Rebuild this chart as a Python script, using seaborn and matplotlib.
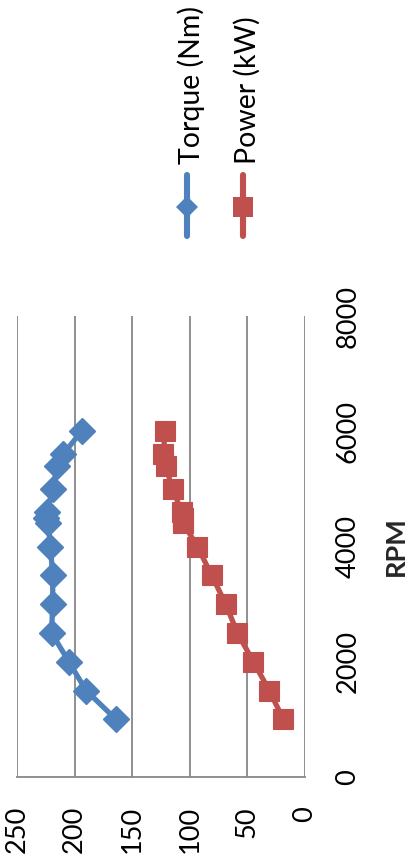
import matplotlib
matplotlib.use("Agg")
import matplotlib.pyplot as plt
import seaborn as sns
import pandas as pd

# ---- data ----
rpm = [1000, 1500, 2000, 2500, 3000, 3500, 4000, 4400, 4500, 4600, 5000, 5400, 5600, 6000]
torque_nm = [164, 190, 205, 220, 219, 219, 221, 223, 225, 224, 219, 215, 210, 194]
power_kw = [18.8, 31, 44.8, 58.7, 68.8, 81, 93.4, 105.5, 106, 107, 115, 121, 123, 121.4]
value_ticks = [0, 50, 100, 150, 200, 250]
rpm_ticks = [0, 2000, 4000, 6000, 8000]
series_names = ["Torque (Nm)", "Power (kW)"]
axis_title = "RPM"

BLUE = "#4F81BD"
RED = "#C0504D"
GRID = "#878787"

sns.set_style("white")
plt.rcParams["font.family"] = ["Lato", "DejaVu Sans"]

W, H = 408, 857
fig = plt.figure(figsize=(W / 100, H / 100), dpi=100)

# chart is drawn rotated: values run horizontally (right->left), RPM vertically
left, right, top, bottom = 17, 305, 316, 777
ax = fig.add_axes([left / W, 1 - bottom / H, (right - left) / W, (bottom - top) / H])

df = pd.DataFrame({"rpm": rpm, "torque": torque_nm, "power": power_kw})

sns.lineplot(data=df, x="torque", y="rpm", sort=False, estimator=None, ax=ax,
             color=BLUE, lw=3.8, marker="D", markersize=13,
             markerfacecolor=BLUE, markeredgecolor=BLUE, markeredgewidth=1)
sns.lineplot(data=df, x="power", y="rpm", sort=False, estimator=None, ax=ax,
             color=RED, lw=3.8, marker="s", markersize=15,
             markerfacecolor=RED, markeredgecolor=RED, markeredgewidth=0.8)

ax.set_xlim(250, 0)
ax.set_ylim(0, 8000)
ax.set_xticks(value_ticks)
ax.set_yticks(rpm_ticks)
ax.set_xticklabels([str(v) for v in value_ticks], rotation=90, fontsize=19.5)
ax.set_yticklabels([str(v) for v in rpm_ticks], rotation=90, fontsize=19.5, va="center")
ax.yaxis.tick_right()
ax.yaxis.set_label_position("right")
ax.tick_params(axis="x", length=0, pad=21, colors="black")
ax.tick_params(axis="y", length=0, pad=22, colors="black")
ax.set_xlabel("")
ax.set_ylabel(axis_title, rotation=90, fontsize=19.5, fontweight="bold", labelpad=17)

ax.grid(False)
ax.xaxis.grid(True, color=GRID, lw=1.3)
for s in ["top", "left", "right"]:
    ax.spines[s].set_visible(False)
ax.spines["bottom"].set_color(GRID)
ax.spines["bottom"].set_linewidth(1.3)
ax.set_axisbelow(True)

# ---- legend (rotated, drawn in pixel space) ----
lg = fig.add_axes([0, 0, 1, 1])
lg.set_xlim(0, W)
lg.set_ylim(H, 0)
lg.axis("off")
lg.patch.set_alpha(0)
legend_items = [(187, 200, BLUE, "D", 11), (243, 256, RED, "s", 14)]
for (lx, tx, col, mk, ms), name in zip(legend_items, series_names):
    lg.plot([lx, lx], [175, 236], color=col, lw=4.4, solid_capstyle="round")
    lg.plot([lx], [207], marker=mk, color=col, markersize=ms, markeredgewidth=0)
    lg.text(tx, 164, name, rotation=90, rotation_mode="anchor",
            ha="left", va="baseline", fontsize=20.5, color="black")

fig.savefig("out.png", dpi=100)
